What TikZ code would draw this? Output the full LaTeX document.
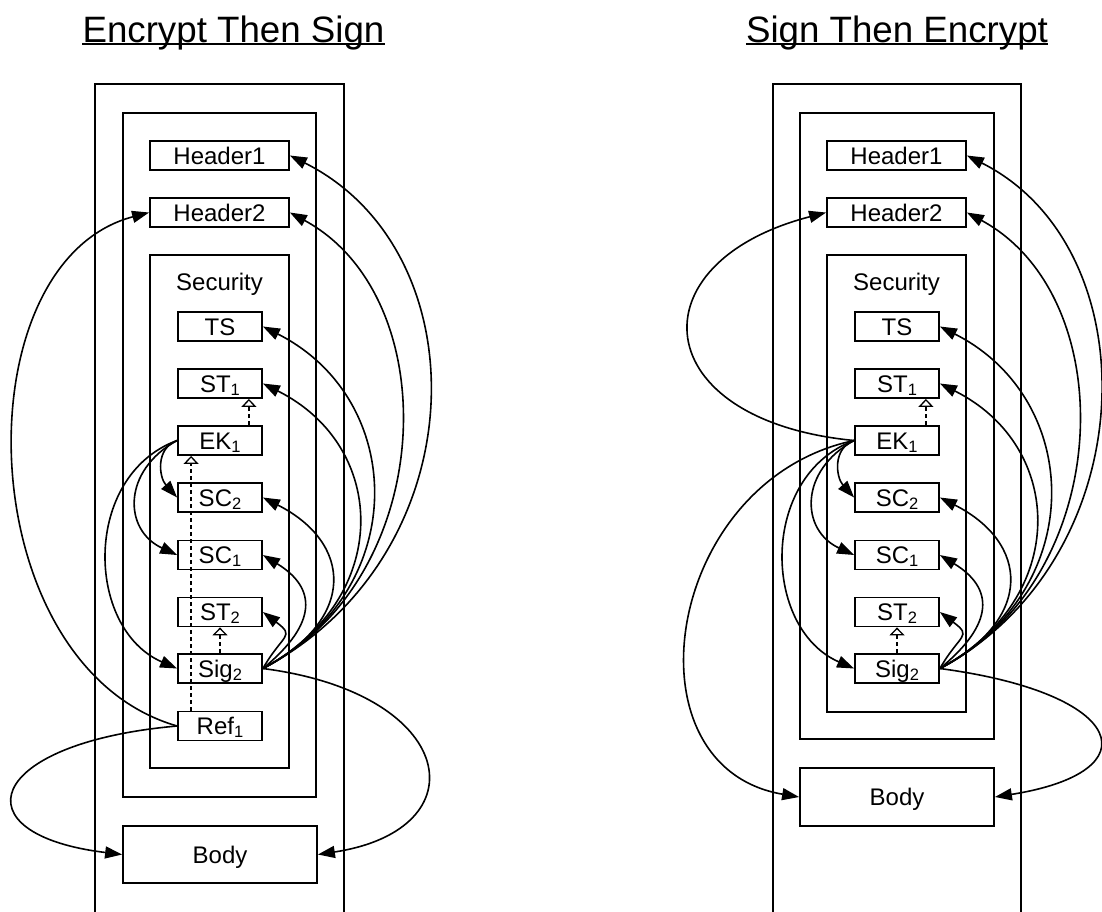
\documentclass[tikz,border=0pt]{standalone}
\usepackage{fontspec}
\setmainfont{Liberation Sans}
\usetikzlibrary{arrows.meta}
\newcommand\lsub[1]{\raisebox{-3.3pt}{\fontsize{16.5}{16.5}\selectfont #1}}
\begin{document}
\begin{tikzpicture}[x=1pt,y=-1pt,
  box/.style={draw, line width=1.8pt, inner sep=0pt, font=\fontsize{24}{28}\selectfont, text height=17.2pt, text depth=0pt},
  sbox/.style={box, minimum width=84pt, minimum height=29pt},
  hbox/.style={box, minimum width=139pt, minimum height=29pt},
  cont/.style={draw, line width=1.8pt, inner sep=0pt},
  lbl/.style={inner sep=0pt, anchor=base, font=\fontsize{24}{28}\selectfont},
  arr/.style={line width=1.6pt, -{Triangle[length=17pt,width=12pt]}},
  dep/.style={line width=1.6pt, dash pattern=on 4pt off 3pt, -{Triangle[open,length=8pt,width=15pt,line width=1.3pt]}},
  ttl/.style={inner sep=0pt, font=\fontsize{36.7}{40}\selectfont, anchor=base},
  uline/.style={line width=2pt}
]
\path[use as bounding box, clip] (0,0) rectangle (1102,911);

% ---------- Left: Encrypt Then Sign ----------
\node[ttl] (LT) at (233.5,42) {Encrypt Then Sign};
\draw[uline] ([yshift=-2pt]LT.base west) -- ([yshift=-2pt]LT.base east);

\node[cont, minimum width=249pt, minimum height=846pt] (L-outer) at (219.5,507) {};
\node[cont, minimum width=193pt, minimum height=684pt] (L-msg) at (219.5,455) {};
\node[cont, minimum width=139pt, minimum height=513pt] (L-sec) at (219.5,511.5) {};
\node[lbl] (L-seclbl) at (219.5,290) {Security};

\node[hbox] (L-h1) at (219.5,155.5) {Header1};
\node[hbox] (L-h2) at (219.5,212.5) {Header2};
\node[sbox] (L-ts) at (220,326.5) {TS};
\node[sbox] (L-st1) at (220,383.5) {ST\lsub{1}};
\node[sbox] (L-ek) at (220,440.5) {EK\lsub{1}};
\node[sbox] (L-sc2) at (220,497.5) {SC\lsub{2}};
\node[sbox] (L-sc1) at (220,555) {SC\lsub{1}};
\node[sbox] (L-st2) at (220,612) {ST\lsub{2}};
\node[sbox] (L-sig) at (220,668.5) {Sig\lsub{2}};
\node[sbox] (L-ref) at (220,726) {Ref\lsub{1}};
\node[box, minimum width=194pt, minimum height=57pt] (L-body) at (220,854.5) {Body};

\draw[arr] (L-sig.east) .. controls +(215,-114) and +(192,96) .. (L-h1.east);
\draw[arr] (L-sig.east) .. controls +(175,-90) and +(157,85) .. (L-h2.east);
\draw[arr] (L-sig.east) .. controls +(150,-80) and +(143,72) .. (L-ts.east);
\draw[arr] (L-sig.east) .. controls +(130,-70) and +(126,63) .. (L-st1.east);
\draw[arr] (L-sig.east) .. controls +(95,-50) and +(89,45) .. (L-sc2.east);
\draw[arr] (L-sig.east) .. controls +(55,-45) and +(54,33) .. (L-sc1.east);
\draw[arr] (L-sig.east) .. controls +(20,-35) and +(33,25) .. (L-st2.east);
\draw[arr] (L-sig.east) .. controls +(195,25) and +(164,-25) .. (L-body.east);

\draw[arr] (L-ek.west) .. controls +(-22,8) and +(-18,-20) .. (L-sc2.west);
\draw[arr] (L-ek.west) .. controls +(-55,30) and +(-54,-25) .. (L-sc1.west);
\draw[arr] (L-ek.west) .. controls +(-95,35) and +(-92,-40) .. (L-sig.west);

\draw[arr] (L-ref.west) .. controls +(-208,-60) and +(-190,50) .. (L-h2.west);
\draw[arr] (L-ref.west) .. controls +(-193,17) and +(-165,-20) .. (L-body.west);

\draw[dep] ([xshift=-14pt]L-ek.north east) -- ([xshift=-14pt]L-st1.south east);
\draw[dep] (L-sig.north) -- (L-st2.south);
\draw[dep] ([xshift=14pt]L-ref.north west) -- ([xshift=14pt]L-ek.south west);

% ---------- Right: Sign Then Encrypt ----------
\node[ttl] (RT) at (897,42) {Sign Then Encrypt};
\draw[uline] ([yshift=-2pt]RT.base west) -- ([yshift=-2pt]RT.base east);

\node[cont, minimum width=248pt, minimum height=846pt] (R-outer) at (897,507) {};
\node[cont, minimum width=194pt, minimum height=626pt] (R-msg) at (897,426) {};
\node[cont, minimum width=139pt, minimum height=457pt] (R-sec) at (896.5,483.5) {};
\node[lbl] (R-seclbl) at (896.5,290) {Security};

\node[hbox] (R-h1) at (896.5,155.5) {Header1};
\node[hbox] (R-h2) at (896.5,212.5) {Header2};
\node[sbox] (R-ts) at (897,326.5) {TS};
\node[sbox] (R-st1) at (897,383.5) {ST\lsub{1}};
\node[sbox] (R-ek) at (897,440.5) {EK\lsub{1}};
\node[sbox] (R-sc2) at (897,497.5) {SC\lsub{2}};
\node[sbox] (R-sc1) at (897,555) {SC\lsub{1}};
\node[sbox] (R-st2) at (897,612) {ST\lsub{2}};
\node[sbox] (R-sig) at (897,668.5) {Sig\lsub{2}};
\node[box, minimum width=194pt, minimum height=58pt] (R-body) at (897,797) {Body};

\draw[arr] (R-sig.east) .. controls +(205,-110) and +(185,93) .. (R-h1.east);
\draw[arr] (R-sig.east) .. controls +(175,-90) and +(157,85) .. (R-h2.east);
\draw[arr] (R-sig.east) .. controls +(150,-80) and +(143,72) .. (R-ts.east);
\draw[arr] (R-sig.east) .. controls +(130,-70) and +(126,63) .. (R-st1.east);
\draw[arr] (R-sig.east) .. controls +(95,-50) and +(89,45) .. (R-sc2.east);
\draw[arr] (R-sig.east) .. controls +(55,-45) and +(54,33) .. (R-sc1.east);
\draw[arr] (R-sig.east) .. controls +(20,-35) and +(33,25) .. (R-st2.east);
\draw[arr] (R-sig.east) .. controls +(188,25) and +(158,-25) .. (R-body.east);

\draw[arr] (R-ek.west) .. controls +(-208,-20) and +(-193,50) .. (R-h2.west);
\draw[arr] (R-ek.west) .. controls +(-22,8) and +(-18,-20) .. (R-sc2.west);
\draw[arr] (R-ek.west) .. controls +(-55,30) and +(-54,-25) .. (R-sc1.west);
\draw[arr] (R-ek.west) .. controls +(-95,35) and +(-92,-40) .. (R-sig.west);
\draw[arr] (R-ek.west) .. controls +(-190,40) and +(-177,-30) .. (R-body.west);

\draw[dep] ([xshift=-14pt]R-ek.north east) -- ([xshift=-14pt]R-st1.south east);
\draw[dep] (R-sig.north) -- (R-st2.south);
\end{tikzpicture}
\end{document}
